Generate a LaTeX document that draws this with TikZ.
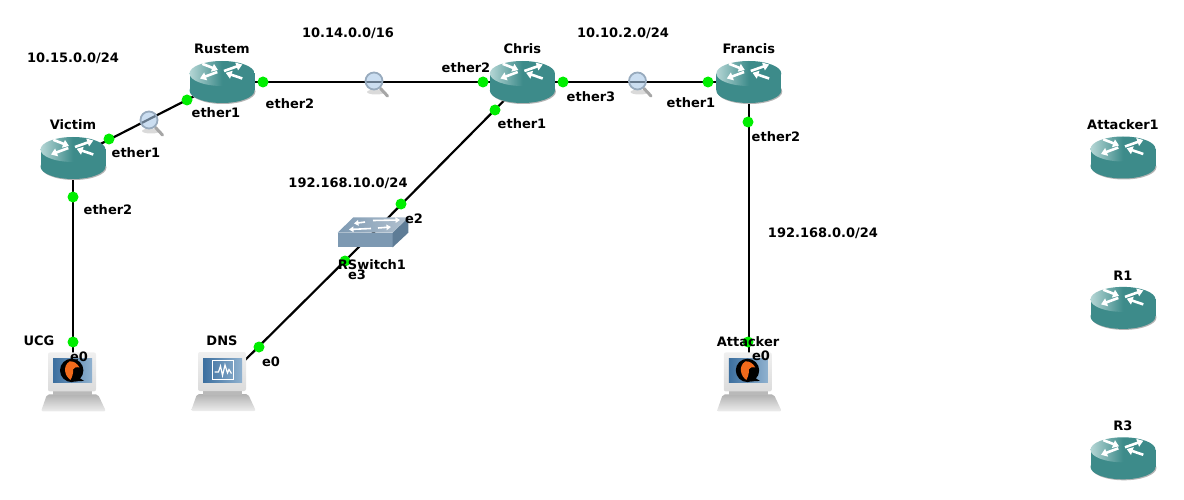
\documentclass[tikz,border=0pt]{standalone}
\usepackage{fontspec}
\setmainfont{DejaVu Sans}
\usetikzlibrary{positioning, backgrounds, arrows.meta}

\definecolor{routerteal}{HTML}{3D8B8A}
\definecolor{routerlight}{HTML}{B5D6D5}
\definecolor{shadowgray}{HTML}{B4B4B4}
\definecolor{portgreen}{HTML}{00EE00}
\definecolor{screenblue}{HTML}{3C6F9F}
\definecolor{screenlight}{HTML}{8FB1CF}
\definecolor{switchtop}{HTML}{93A8BC}
\definecolor{switchfront}{HTML}{7D99B2}
\definecolor{switchside}{HTML}{5E7C96}
\definecolor{qemuorange}{HTML}{F26A1B}
\definecolor{lensblue}{HTML}{A9C8E8}

\tikzset{
  router/.style={minimum width=66pt, minimum height=43pt, inner sep=0pt},
  host/.style={minimum width=66pt, minimum height=60pt, inner sep=0pt},
  switchbox/.style={minimum width=71pt, minimum height=31pt, inner sep=0pt},
  sniffer/.style={circle, minimum size=18pt, inner sep=0pt},
  port/.style={circle, fill=portgreen, minimum size=11pt, inner sep=0pt},
  devlabel/.style={font=\fontsize{13}{15}\selectfont\bfseries, inner sep=0pt, yshift=-1pt},
  iflabel/.style={font=\fontsize{13}{15}\selectfont\bfseries, inner sep=0pt, yshift=-1pt},
  netlabel/.style={font=\fontsize{13}{15}\selectfont\bfseries, inner sep=0pt, yshift=-1pt},
  link/.style={line width=2.2pt, black},
  whitearrow/.style={line width=2.6pt, white, -{Triangle[length=6pt, width=8pt]}},
  routericon/.pic={
    \fill[shadowgray] (1,9.5) ellipse [x radius=32.5pt, y radius=12.5pt];
    \fill[routerteal] (0,8.5) ellipse [x radius=32.5pt, y radius=12.5pt];
    \fill[routerteal] (-32.5,-8.5) rectangle (32.5,8.5);
    \shade[left color=routerlight, right color=routerteal, middle color=routerteal]
      (0,-8.5) ellipse [x radius=32.5pt, y radius=12.5pt];
    \draw[whitearrow] (2,-11) -- (20.3,-17.5);
    \draw[whitearrow] (-4.7,-10) -- (-22,-3.5);
    \draw[whitearrow] (-19.7,-18.2) -- (-4,-12);
    \draw[whitearrow] (20.3,-3.5) -- (3.7,-9.2);
  },
  hosticon/.pic={
    \shade[top color=gray!60, bottom color=gray!14, rounded corners=2pt]
      (-26,12) -- (25,12) -- (33,29) -- (-32,29) -- cycle;
    \fill[gray!55] (-20,8) rectangle (19,13);
    \shade[top color=gray!12, bottom color=gray!28, rounded corners=2pt]
      (-25,-30) rectangle (23,9);
    \shade[left color=screenblue, right color=screenlight]
      (-20,-24) rectangle (19,0);
  },
  qemuicon/.pic={
    \fill[black] (-1.3,-12) circle (11.7);
    \fill[black] (4,-6) -- (11,-1.5) -- (2,-1) -- cycle;
    \fill[qemuorange] (-3.5,-21) .. controls (1,-21.5) and (4,-19) .. (6.5,-15)
      .. controls (3,-15.5) and (1,-15) .. (0,-13)
      .. controls (0.5,-9) and (-1,-5) .. (-2.5,-2.5)
      .. controls (-8,-6) and (-11,-16) .. (-3.5,-21) -- cycle;
  },
  monitoricon/.pic={
    \draw[white, line width=1.2pt] (-10.3,-21.3) rectangle (10.3,-2.7);
    \draw[white, line width=1.2pt] (-8.5,-10) -- (-4.5,-10) -- (-2.5,-16) -- (-0.5,-6.5)
      -- (2,-17) -- (4.5,-9) -- (6,-12.5) -- (8.5,-8.5);
  },
  switchicon/.pic={
    \fill[switchfront] (-35.3,-0.3) rectangle (19.7,14.3);
    \fill[switchside] (19.7,-0.3) -- (35.3,-15.7) -- (35.3,-0.3) -- (19.7,14.3) -- cycle;
    \shade[left color=switchfront, right color=switchtop!70!white]
      (-35.3,-0.3) -- (-19.7,-15.7) -- (35.3,-15.7) -- (19.7,-0.3) -- cycle;
    \draw[white, line width=1.6pt, -{Triangle[length=4.5pt, width=5.5pt]}] (-8,-11) -- (-19,-9.5);
    \draw[white, line width=1.6pt, -{Triangle[length=4.5pt, width=5.5pt]}] (-2,-4.5) -- (-24,-3.5);
    \draw[white, line width=1.6pt, -{Triangle[length=4.5pt, width=5.5pt]}] (0,-12.5) -- (27,-13);
    \draw[white, line width=1.6pt, -{Triangle[length=4.5pt, width=5.5pt]}] (5,-5) -- (18,-6);
  },
  lensicon/.pic={
    \fill[shadowgray!50] (2,11) ellipse [x radius=9pt, y radius=2.5pt];
    \draw[gray!70, line width=3pt, line cap=round] (6.5,7.5) -- (13.5,15);
    \fill[lensblue, fill opacity=0.6] (0,0) circle (8.5);
    \draw[lensblue!60!gray, line width=1.8pt] (0,0) circle (8.5);
  }
}

\begin{document}
\begin{tikzpicture}[x=1pt, y=-1pt]

\useasboundingbox (0,0) rectangle (1184,500);

% define nodes

% routers

\node[router] (victim) at (73,158) {};
\node[router] (rustem) at (222,82) {};
\node[router, right=234pt of rustem] (chris) {};
\node[router, right=160pt of chris] (francis) {};

\node[router] (attackerone) at (1123,157.5) {};
\node[router, below=107pt of attackerone] (rone) {};
\node[router, below=107pt of rone] (rthree) {};

% hosts

\node[host, below=172.5pt of victim] (ucg) {};
\node[host] (dns) at (223,382) {};
\node[host, below=248.5pt of francis] (attacker) {};

\node[switchbox] (rswitch) at (373,233) {};

% captures

\node[sniffer] (snifffifteen) at (149,120) {};
\node[sniffer] (snifffourteen) at (374,81) {};
\node[sniffer] (snifften) at (637.5,81) {};

\foreach \n in {victim,rustem,chris,francis,attackerone,rone,rthree}
  \pic at (\n) {routericon};
\foreach \n in {ucg,dns,attacker}
  \pic at (\n) {hosticon};
\foreach \n in {ucg,attacker}
  \pic at (\n) {qemuicon};
\pic at (dns) {monitoricon};
\pic at (rswitch) {switchicon};
\foreach \n in {snifffifteen,snifffourteen,snifften}
  \pic at (\n) {lensicon};

% ports

\node[port] (p0) at (109,139) {};
\node[port] (p1) at (187,100) {};
\node[port] (p2) at (263,82) {};
\node[port] (p3) at (483,82) {};
\node[port] (p4) at (563,82) {};
\node[port] (p5) at (708,82) {};
\node[port] (p6) at (495,110) {};
\node[port] (p7) at (401,204) {};
\node[port] (p8) at (345,261) {};
\node[port] (p9) at (259,347) {};
\node[port] (p10) at (73,197) {};
\node[port] (p11) at (73,342) {};
\node[port] (p12) at (748,122) {};
\node[port] (p13) at (748,342) {};

% device labels

\node[devlabel, above=7pt of victim] (victimlabel) {Victim};
\node[devlabel, above=7pt of rustem] (rustemlabel) {Rustem};
\node[devlabel, above=7pt of chris] (chrislabel) {Chris};
\node[devlabel, above=7pt of francis] (francislabel) {Francis};
\node[devlabel, above=7pt of attackerone] (attackeronelabel) {Attacker1};
\node[devlabel, above=7pt of rone] (ronelabel) {R1};
\node[devlabel, above=7pt of rthree] (rthreelabel) {R3};
\node[devlabel] (ucglabel) at (39,340) {UCG};
\node[devlabel] (dnslabel) at (222,340) {DNS};
\node[devlabel] (attackerlabel) at (748,341) {Attacker};
\node[devlabel] (rswitchlabel) at (372,264) {RSwitch1};

% interface labels

\node[iflabel] (if0) at (136,152) {ether1};
\node[iflabel] (if1) at (216,112) {ether1};
\node[iflabel] (if2) at (290,103) {ether2};
\node[iflabel] (if3) at (466,67) {ether2};
\node[iflabel] (if4) at (591,96) {ether3};
\node[iflabel] (if5) at (691,102) {ether1};
\node[iflabel] (if6) at (522,123) {ether1};
\node[iflabel] (if7) at (776,136) {ether2};
\node[iflabel] (if8) at (108,209) {ether2};
\node[iflabel] (if9) at (79,356) {e0};
\node[iflabel] (if10) at (271,361) {e0};
\node[iflabel] (if11) at (761,355) {e0};
\node[iflabel] (if12) at (414,218) {e2};
\node[iflabel] (if13) at (357,274) {e3};

% networks

\node[netlabel] (netfifteen) at (73,57) {10.15.0.0/24};
\node[netlabel] (netfourteen) at (348,32) {10.14.0.0/16};
\node[netlabel] (netten) at (623,32) {10.10.2.0/24};
\node[netlabel] (netlan) at (348,182) {192.168.10.0/24};
\node[netlabel] (netzero) at (823,232) {192.168.0.0/24};

% edges

\begin{scope}[on background layer]
\draw[link] (victim.center) -- (rustem.center);
\draw[link] (rustem.center) -- (chris.center);
\draw[link] (chris.center) -- (francis.center);
\draw[link] (chris.center) -- (rswitch.center);
\draw[link] (rswitch.center) -- (dns.center);
\draw[link] (victim.center) -- (ucg.center);
\draw[link] (francis.center) -- (attacker.center);
\end{scope}

\end{tikzpicture}
\end{document}
